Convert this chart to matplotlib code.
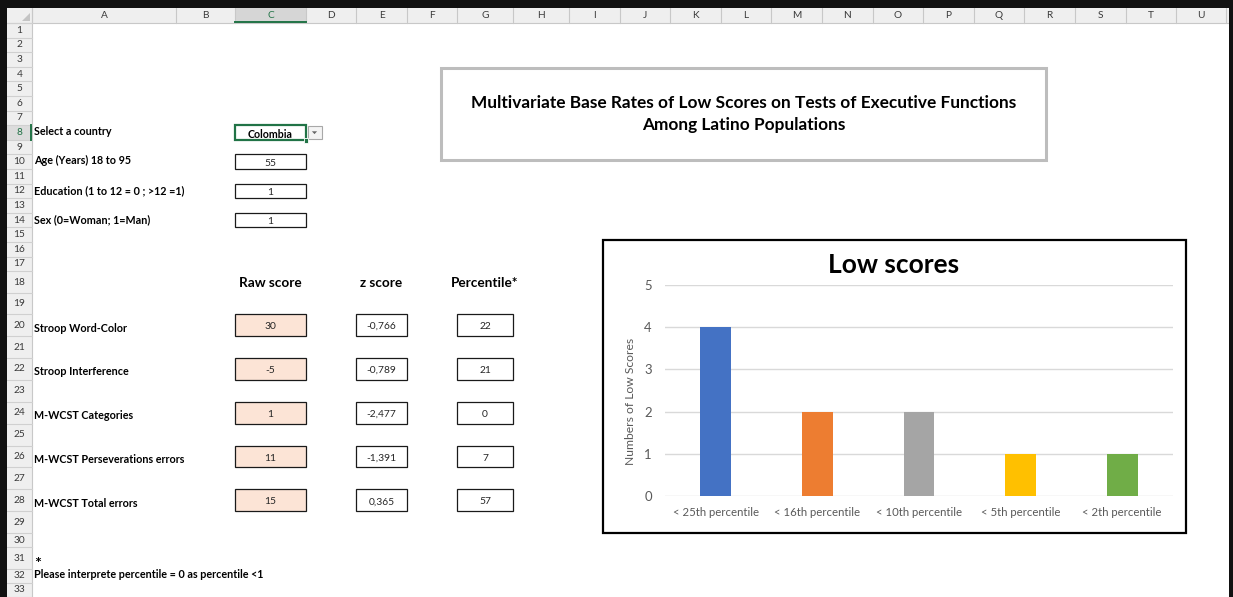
import matplotlib
matplotlib.use("Agg")
import matplotlib.pyplot as plt
from matplotlib.patches import Rectangle, Polygon

plt.rcParams['font.family'] = ['Lato', 'DejaVu Sans']

# ---------------- data ----------------
country = "Colombia"
age = 55
education = 1
sex = 1

input_labels = ["Select a country", "Age (Years) 18 to 95",
                "Education (1 to 12 = 0 ; >12 =1)", "Sex (0=Woman; 1=Man)"]

test_names = ["Stroop Word-Color", "Stroop Interference", "M-WCST Categories",
              "M-WCST Perseverations errors", "M-WCST Total errors"]
raw_scores = [30, -5, 1, 11, 15]
z_scores = [-0.766, -0.789, -2.477, -1.391, 0.365]
percentiles = [22, 21, 0, 7, 57]

column_headers = ["Raw score", "z score", "Percentile*"]
sheet_title = ["Multivariate Base Rates of Low Scores on Tests of Executive Functions",
               "Among Latino Populations"]
footnote = ["*", "Please interprete percentile = 0 as percentile <1"]

categories = ["< 25th percentile", "< 16th percentile", "< 10th percentile",
              "< 5th percentile", "< 2th percentile"]
low_counts = [4, 2, 2, 1, 1]
bar_colors = ["#4472C4", "#ED7D31", "#A5A5A5", "#FFC000", "#70AD47"]
chart_title = "Low scores"
chart_ylabel = "Numbers of Low Scores"

col_letters = list("ABCDEFGHIJKLMNOPQRSTU")

# ---------------- sheet geometry (pixels) ----------------
W, H = 1233, 597
col_edges = [32, 176, 235, 306, 356, 407, 457, 513, 569, 620, 670, 721, 771,
             822, 873, 923, 974, 1024, 1075, 1126, 1176, 1226]
row_heights = [14.6] * 17 + [22, 21] + [21.9] * 10 + [14, 22, 13.5, 14.5]
row_tops = [23.0]
for h in row_heights:
    row_tops.append(row_tops[-1] + h)


def row_span(r):
    return row_tops[r - 1], row_tops[r]


def row_mid(r):
    a, b = row_span(r)
    return (a + b) / 2


fig = plt.figure(figsize=(W / 100, H / 100), dpi=100)
base = fig.add_axes([0, 0, 1, 1])
base.set_xlim(0, W)
base.set_ylim(H, 0)
base.axis('off')
renderer = fig.canvas.get_renderer()


def fit_size(s, width_px, weight='normal', ref=10.0):
    t = base.text(0, 0, s, fontsize=ref, weight=weight)
    w = t.get_window_extent(renderer).width
    t.remove()
    return ref * width_px / w


label_fs = fit_size(footnote[1], 229, 'bold')
title_fs = fit_size(sheet_title[0], 544, 'bold')
head_fs = fit_size(column_headers[0], 63, 'bold')
value_fs = fit_size("-0,766", 30)
country_fs = fit_size(country, 45, 'bold')
hdr_fs = 7.3

# ---------------- frame and headers ----------------
base.add_patch(Rectangle((0, 0), W, H, facecolor='white', edgecolor='none', zorder=0))
base.add_patch(Rectangle((7, 8), 1222, 15, facecolor='#efefef', edgecolor='none', zorder=1))
base.add_patch(Rectangle((7, 8), 25, H, facecolor='#efefef', edgecolor='none', zorder=1))
# selected column C header
base.add_patch(Rectangle((col_edges[2], 8), col_edges[3] - col_edges[2], 15,
                         facecolor='#d6d6d6', edgecolor='none', zorder=1.5))
base.plot([col_edges[2], col_edges[3]], [22.3, 22.3], color='#217346', lw=1.4, zorder=3)
# row 8 selected marker
r8a, r8b = row_span(8)
base.add_patch(Rectangle((7, r8a), 25, r8b - r8a, facecolor='#dcdcdc', edgecolor='none', zorder=1.5))
base.plot([31.3, 31.3], [r8a, r8b], color='#217346', lw=1.4, zorder=3)

for x in col_edges:
    base.plot([x, x], [8, 23], color='#c8c8c8', lw=0.8, zorder=2)
base.plot([7, 1229], [23, 23], color='#c8c8c8', lw=0.8, zorder=2)
base.plot([32, 32], [8, H], color='#c8c8c8', lw=0.8, zorder=2)
for y in row_tops:
    base.plot([7, 32], [y, y], color='#d0d0d0', lw=0.8, zorder=2)
# select-all triangle
base.add_patch(Polygon([(22, 21), (30, 21), (30, 13)], closed=True,
                       facecolor='#c4c4c4', edgecolor='none', zorder=2))

for i, letter in enumerate(col_letters):
    cx = (col_edges[i] + col_edges[i + 1]) / 2
    base.text(cx, 15.7, letter, ha='center', va='center', fontsize=hdr_fs,
              color='#217346' if letter == 'C' else '#3a3a3a', zorder=4)
for r in range(1, 34):
    base.text(19.5, row_mid(r), str(r), ha='center', va='center', fontsize=hdr_fs,
              color='#217346' if r == 8 else '#3a3a3a', zorder=4)

# outer dark border
base.add_patch(Rectangle((0, 0), W, 8, facecolor='#111111', edgecolor='none', zorder=5))
base.add_patch(Rectangle((0, 0), 7, H, facecolor='#111111', edgecolor='none', zorder=5))
base.add_patch(Rectangle((1229, 0), 4, H, facecolor='#111111', edgecolor='none', zorder=5))

# ---------------- cell content ----------------
def label(r, s, fs=None, dy=0.0):
    base.text(34, row_tops[r] - 4.5 + dy, s, ha='left', va='baseline',
              fontsize=fs or label_fs, weight='bold', color='black', zorder=4)


def box(x0, x1, r, s, face='white', weight='normal', fs=None, color='#262626'):
    a, b = row_span(r)
    base.add_patch(Rectangle((x0, a), x1 - x0, b - a, facecolor=face,
                             edgecolor='#1a1a1a', lw=0.9, zorder=3))
    base.text((x0 + x1) / 2, (a + b) / 2 + 0.5, s, ha='center', va='center_baseline',
              fontsize=fs or value_fs, weight=weight, color=color, zorder=4)


cA, cB = col_edges[2], col_edges[3]
eA, eB = col_edges[4], col_edges[5]
gA, gB = col_edges[6], col_edges[7]

for r, s in zip([8, 10, 12, 14], input_labels):
    label(r, s)

# country selector (active cell)
a, b = row_span(8)
base.add_patch(Rectangle((cA, a - 0.5), cB - cA, b - a + 1, facecolor='white',
                         edgecolor='#217346', lw=1.6, zorder=3))
base.text((cA + cB) / 2, (a + b) / 2 + 0.5, country, ha='center', va='center_baseline',
          fontsize=country_fs, weight='bold', color='black', zorder=4)
base.add_patch(Rectangle((cB - 2.5, b - 1.5), 4.5, 4.5, facecolor='#217346',
                         edgecolor='white', lw=0.6, zorder=4))
base.add_patch(Rectangle((cB + 1.5, a + 0.5), 14, b - a - 1.5, facecolor='#f4f4f4',
                         edgecolor='#a8a8a8', lw=0.8, zorder=3))
mx, my = cB + 8.5, (a + b) / 2
base.add_patch(Polygon([(mx - 2.6, my - 1.2), (mx + 2.6, my - 1.2), (mx, my + 1.6)],
                       closed=True, facecolor='#666666', edgecolor='none', zorder=4))

box(cA, cB, 10, str(age))
box(cA, cB, 12, str(education))
box(cA, cB, 14, str(sex))

for cx, s in zip([(cA + cB) / 2, (eA + eB) / 2, (gA + gB) / 2], column_headers):
    base.text(cx, 283, s, ha='center', va='center', fontsize=head_fs, weight='bold',
              color='black', zorder=4)

for i, name in enumerate(test_names):
    r = 20 + 2 * i
    label(r, name)
    box(cA, cB, r, str(raw_scores[i]), face='#FCE4D6')
    box(eA, eB, r, f"{z_scores[i]:.3f}".replace('.', ','))
    box(gA, gB, r, str(percentiles[i]))

label(31, footnote[0], fs=label_fs * 1.5, dy=3.5)
label(32, footnote[1])

# ---------------- title box ----------------
base.add_patch(Rectangle((441, 67.5), 605, 92, facecolor='white', edgecolor='#bdbdbd',
                         lw=2.2, zorder=3))
base.text(744, 103, sheet_title[0], ha='center', va='center', fontsize=title_fs,
          weight='bold', color='black', zorder=4)
base.text(744, 125, sheet_title[1], ha='center', va='center', fontsize=title_fs,
          weight='bold', color='black', zorder=4)

# ---------------- chart ----------------
base.add_patch(Rectangle((602.5, 239.5), 583, 293, facecolor='white', edgecolor='black',
                         lw=1.6, zorder=3))
ct_fs = fit_size(chart_title, 132, 'bold')
tick_fs = fit_size(categories[0], 86)
yl_fs = fit_size(chart_ylabel, 128)
base.text(894, 265, chart_title, ha='center', va='center', fontsize=ct_fs,
          weight='bold', color='black', zorder=4)
base.text(630, 401, chart_ylabel, ha='center', va='center', rotation=90,
          fontsize=yl_fs, color='#595959', zorder=4)

px0, px1, py0, py1 = 665, 1173, 285, 496
ax = fig.add_axes([px0 / W, (H - py1) / H, (px1 - px0) / W, (py1 - py0) / H])
ax.set_facecolor('none')
xpos = list(range(len(categories)))
ax.bar(xpos, low_counts, width=0.305, color=bar_colors, zorder=3)
ax.set_xlim(-0.5, len(categories) - 0.5)
ax.set_ylim(0, 5)
ax.set_yticks(range(0, 6))
ax.set_xticks(xpos)
ax.set_xticklabels(categories)
ax.grid(axis='y', color='#d9d9d9', lw=1.0, zorder=0)
for sp in ax.spines.values():
    sp.set_visible(False)
ax.tick_params(axis='y', length=0, pad=9.5, labelsize=tick_fs * 1.15, labelcolor='#595959')
ax.tick_params(axis='x', length=0, pad=8.0, labelsize=tick_fs, labelcolor='#595959')

fig.savefig("out.png", dpi=100)
